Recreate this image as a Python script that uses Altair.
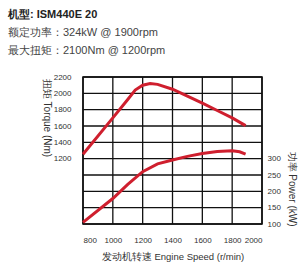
import altair as alt
import pandas as pd

rpm_t = [800, 1000, 1100, 1150, 1200, 1250, 1300, 1400, 1500, 1600, 1700, 1800, 1890]
torque = [1255, 1700, 1925, 2040, 2100, 2120, 2110, 2050, 1965, 1880, 1790, 1700, 1605]
rpm_p = [800, 1000, 1100, 1200, 1300, 1400, 1500, 1600, 1700, 1800, 1850, 1890]
power = [105, 178, 221, 260, 284, 296, 307, 316, 322, 324, 321, 314]

x_ticks = [800, 1000, 1200, 1400, 1600, 1800, 2000]
t_grid = [400, 600, 800, 1000, 1200, 1400, 1600, 1800, 2000, 2200]
p_ticks = [100, 150, 200, 250, 300]
header = ["机型: ISM440E 20", "额定功率：324kW @ 1900rpm", "最大扭矩：2100Nm @ 1200rpm"]

FONT = "Liberation Sans"
RED = "#cf1f2e"
GRID = "#111111"

X_DOM = [800, 2000]
T_DOM = [400, 2200]
P_DOM = [100, 550]

df_t = pd.DataFrame({"rpm": rpm_t, "torque": torque})
df_p = pd.DataFrame({"rpm": rpm_p, "power": power})

xscale = alt.Scale(domain=X_DOM, nice=False)
xaxis = alt.Axis(values=x_ticks, format="d", labelOverlap=False,
                 title="发动机转速 Engine Speed (r/min)",
                 grid=False, ticks=False, domain=False, labelPadding=12,
                 labelFontSize=8, labelColor="#333", labelFont=FONT,
                 titleFont=FONT, titleFontSize=9.5, titleFontWeight="normal",
                 titleColor="#333", titleY=32, titleBaseline="middle")
xenc = alt.X("rpm:Q", scale=xscale, axis=xaxis)

vgrid = alt.Chart(pd.DataFrame({"rpm": x_ticks})).mark_rule(color=GRID, strokeWidth=1.3).encode(
    x=xenc
)
hgrid = alt.Chart(pd.DataFrame({"torque": t_grid})).mark_rule(color=GRID, strokeWidth=1.3).encode(
    y=alt.Y("torque:Q", scale=alt.Scale(domain=T_DOM, nice=False), axis=None)
)

torque_line = alt.Chart(df_t).mark_line(color=RED, strokeWidth=3).encode(
    x=xenc,
    y=alt.Y("torque:Q", scale=alt.Scale(domain=T_DOM, nice=False),
            axis=alt.Axis(values=t_grid, format="d", labelOverlap=False,
                          labelExpr="datum.value >= 1200 ? datum.label : ''",
                          title="扭矩 Torque (Nm)", grid=False, ticks=False, domain=False,
                          labelPadding=12, labelFontSize=8, labelColor="#333",
                          labelFont=FONT, titleFont=FONT, titleFontSize=10,
                          titleFontWeight="normal", titleColor="#333", titleAngle=90,
                          titleX=-36.5, titleY=40.5, titleAlign="center",
                          titleBaseline="middle")),
)

power_line = alt.Chart(df_p).mark_line(color=RED, strokeWidth=3).encode(
    x=xenc,
    y=alt.Y("power:Q", scale=alt.Scale(domain=P_DOM, nice=False),
            axis=alt.Axis(orient="right", values=p_ticks, format="d", labelOverlap=False,
                          title="功率 Power (kW)",
                          grid=False, ticks=False, domain=False, labelPadding=5,
                          labelFontSize=8, labelColor="#333", labelFont=FONT,
                          titleFont=FONT, titleFontSize=10, titleFontWeight="normal",
                          titleColor="#333", titleAngle=90, titleX=29, titleY=111.5,
                          titleAlign="center", titleBaseline="middle")),
)

h1 = alt.Chart(pd.DataFrame({"t": [header[0]]})).mark_text(
    align="left", baseline="middle", font=FONT, fontSize=11, fontWeight="bold", color="#222"
).encode(text="t:N", x=alt.value(-75), y=alt.value(-62))
h2 = alt.Chart(pd.DataFrame({"t": [header[1]]})).mark_text(
    align="left", baseline="middle", font=FONT, fontSize=11, color="#444"
).encode(text="t:N", x=alt.value(-75), y=alt.value(-44))
h3 = alt.Chart(pd.DataFrame({"t": [header[2]]})).mark_text(
    align="left", baseline="middle", font=FONT, fontSize=11, color="#444"
).encode(text="t:N", x=alt.value(-75), y=alt.value(-26))

chart = alt.layer(vgrid, hgrid, torque_line, power_line, h1, h2, h3).resolve_scale(
    y="independent"
).properties(
    width=179, height=147,
    autosize=alt.AutoSizeParams(type="none"),
    padding={"left": 83, "top": 77, "right": 44, "bottom": 50},
    background="white",
).configure_view(stroke="#111", strokeWidth=1.6)

chart.save("out.html", embed_options={"renderer": "svg", "actions": False})
